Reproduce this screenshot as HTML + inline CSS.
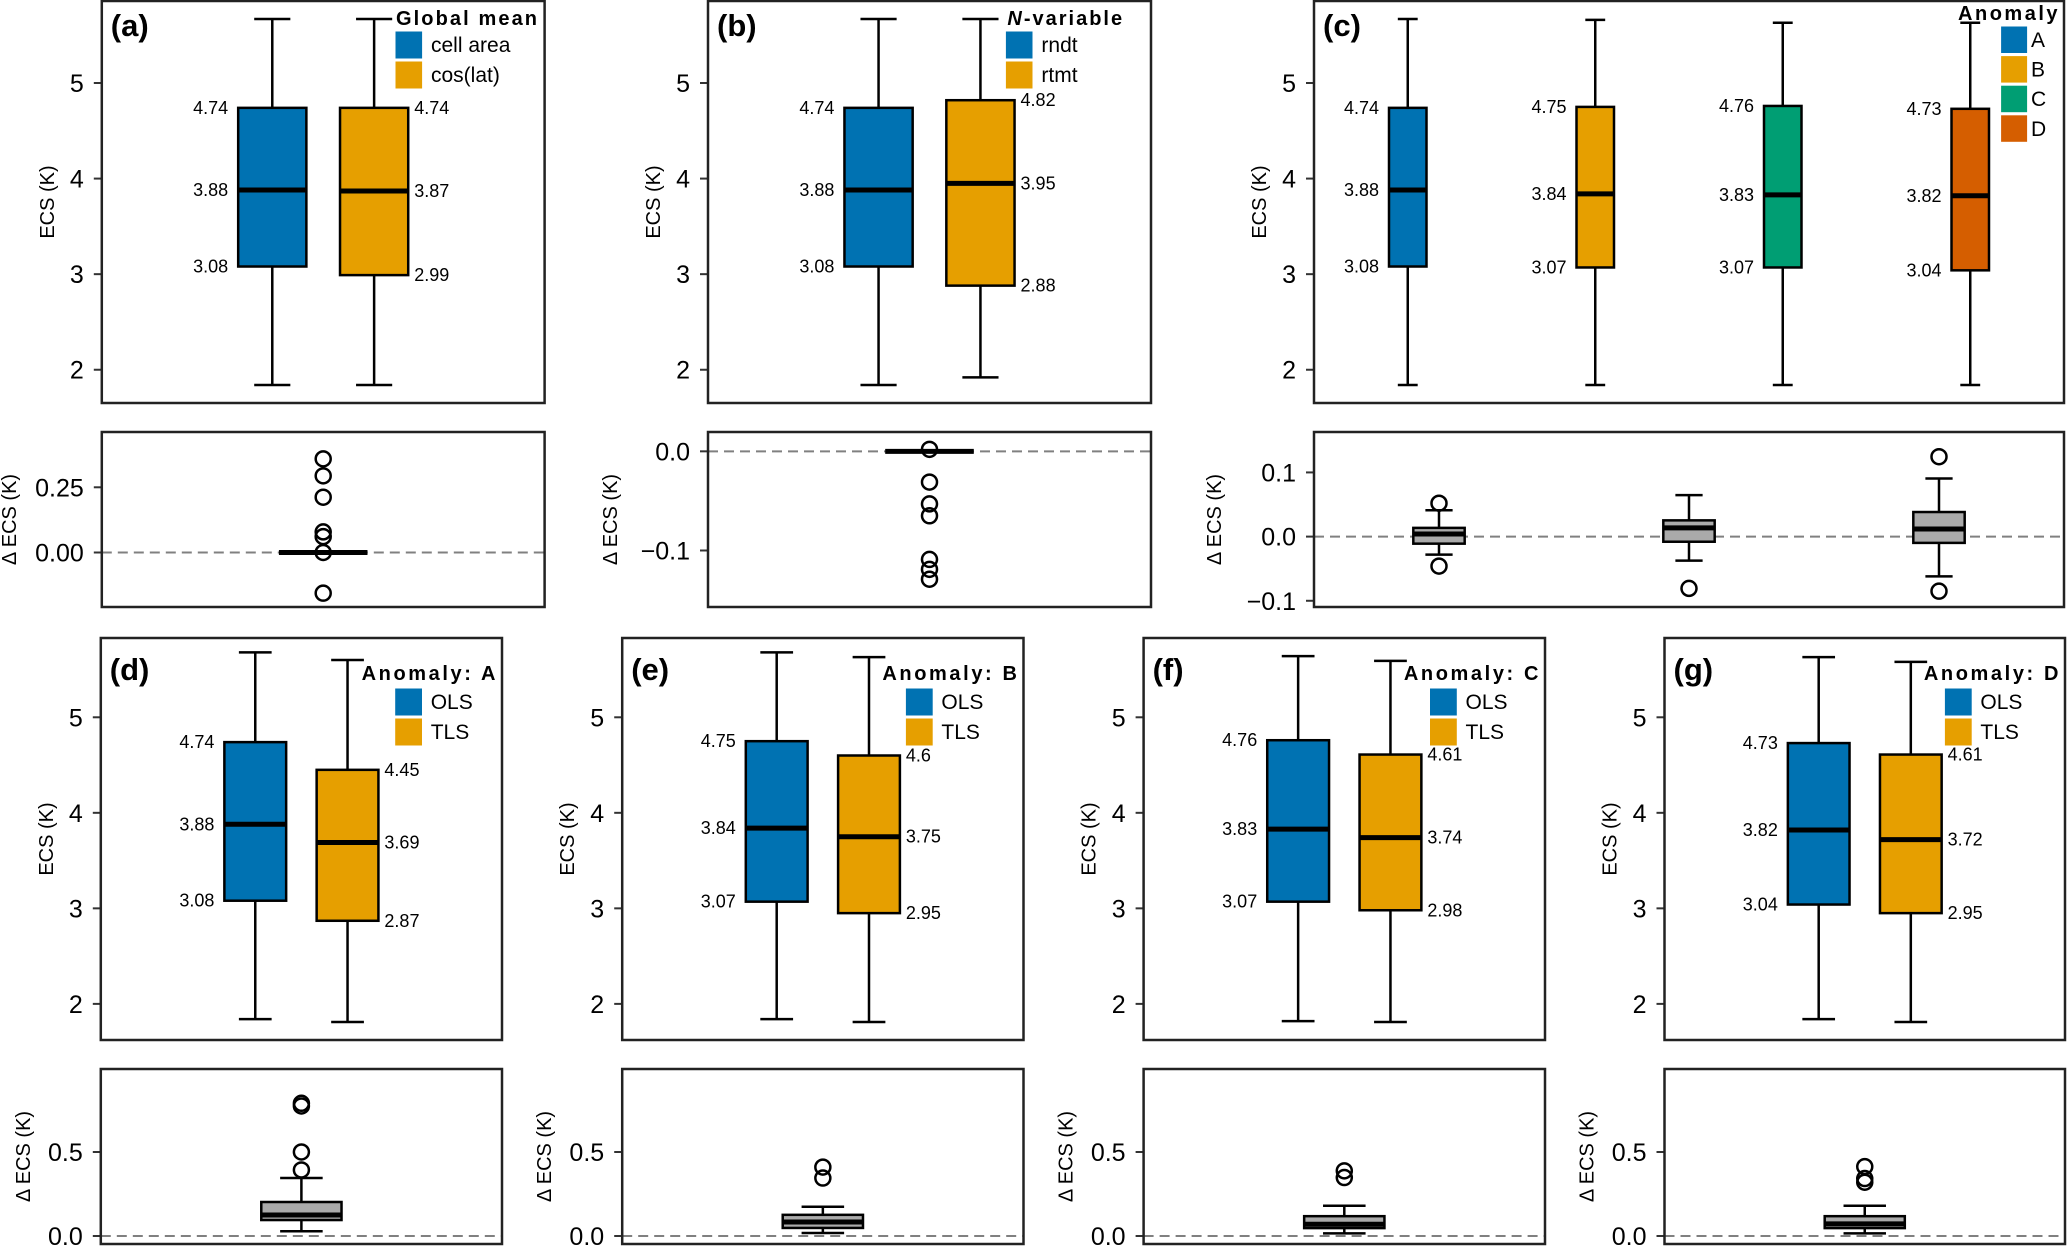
<!DOCTYPE html>
<html><head><meta charset="utf-8"><title>ECS boxplots</title>
<style>
html,body{margin:0;padding:0;background:#fff;}
svg{display:block;font-family:"Liberation Sans",Arial,sans-serif;}
</style></head>
<body>
<svg id="fig" xmlns="http://www.w3.org/2000/svg" width="2067" height="1247" viewBox="0 0 2067 1247"></svg>
<script>
// ---- data ----
const panelIds = ['a','b','c','d','e','f','g'];
const boxQ1  = [[3.08,2.99],[3.08,2.88],[3.08,3.07,3.07,3.04],[3.08,2.87],[3.07,2.95],[3.07,2.98],[3.04,2.95]];
const boxMed = [[3.88,3.87],[3.88,3.95],[3.88,3.84,3.83,3.82],[3.88,3.69],[3.84,3.75],[3.83,3.74],[3.82,3.72]];
const boxQ3  = [[4.74,4.74],[4.74,4.82],[4.74,4.75,4.76,4.73],[4.74,4.45],[4.75,4.6],[4.76,4.61],[4.73,4.61]];
const whiskLo= [[1.84,1.84],[1.84,1.92],[1.84,1.84,1.84,1.84],[1.84,1.81],[1.84,1.81],[1.82,1.81],[1.84,1.81]];
const whiskHi= [[5.67,5.67],[5.67,5.67],[5.67,5.66,5.63,5.63],[5.68,5.60],[5.68,5.63],[5.64,5.59],[5.63,5.58]];
const boxColors = [['#0072B2','#E69F00'],['#0072B2','#E69F00'],['#0072B2','#E69F00','#009E73','#D55E00'],
  ['#0072B2','#E69F00'],['#0072B2','#E69F00'],['#0072B2','#E69F00'],['#0072B2','#E69F00']];
const legendTitles = ['Global mean','-variable','Anomaly','Anomaly: A','Anomaly: B','Anomaly: C','Anomaly: D'];
const legendEntries = [['cell area','cos(lat)'],['rndt','rtmt'],['A','B','C','D'],['OLS','TLS'],['OLS','TLS'],['OLS','TLS'],['OLS','TLS']];
const topTicks = [2,3,4,5];

const dQ1 = [[0],[0],[-0.011,-0.008,-0.0098],[0.095],[0.048],[0.047],[0.047]];
const dMed= [[0],[0],[0.004,0.0136,0.0118],[0.125],[0.083],[0.07],[0.072]];
const dQ3 = [[0],[0],[0.0136,0.0253,0.0383],[0.2024],[0.126],[0.118],[0.118]];
const dLo = [[0],[0],[-0.028,-0.0375,-0.062],[0.028],[0.018],[0.016],[0.016]];
const dHi = [[0],[0],[0.041,0.0647,0.0906],[0.345],[0.174],[0.18],[0.18]];
const dOut= [[[0.359,0.294,0.212,0.079,0.061,0,-0.156]],
             [[0.002,-0.031,-0.053,-0.065,-0.109,-0.119,-0.129]],
             [[0.052,-0.046],[-0.0807],[0.1245,-0.085]],
             [[0.393,0.5,0.774,0.79]],[[0.41,0.345]],[[0.388,0.348]],[[0.413,0.342,0.32]]];
const diffTicks = [[0,0.25],[-0.1,0],[-0.1,0,0.1],[0,0.5],[0,0.5],[0,0.5],[0,0.5]];
const diffTickLabels = [['0.00','0.25'],['\u22120.1','0.0'],['\u22120.1','0.0','0.1'],['0.0','0.5'],['0.0','0.5'],['0.0','0.5'],['0.0','0.5']];

// ---- layout (geometry, not data) ----
const frames = [[101.8,544.6],[708,1151],[1314,2064],[100.8,502],[622.2,1023.5],[1143.6,1545],[1664.5,2065]];
const rowOf = [0,0,0,1,1,1,1];
const topY = [[1,403],[638,1040]];
const botY = [[432,607],[1069,1244]];
const topDom = [[1.652,5.858],[1.622,5.830]];
const diffDom = [[-0.209,0.462],[-0.157,0.0195],[-0.1097,0.163],[-0.0476,0.994],[-0.0476,0.994],[-0.0476,0.994],[-0.0476,0.994]];

const NS='http://www.w3.org/2000/svg';
const svg=document.getElementById('fig');
function mk(tag,attrs,parent){const e=document.createElementNS(NS,tag);for(const k in attrs)e.setAttribute(k,attrs[k]);(parent||svg).appendChild(e);return e;}
function scaleY(dom,rng){return v=>rng[1]-(v-dom[0])/(dom[1]-dom[0])*(rng[1]-rng[0]);}
function fmt(v){return String(v);}

panelIds.forEach((pid,p)=>{
  const [x0,x1]=frames[p]; const fw=x1-x0; const r=rowOf[p];
  const [ty0,ty1]=topY[r]; const [by0,by1]=botY[r];
  const y=scaleY(topDom[r],[ty0,ty1]);
  const yd=scaleY(diffDom[p],[by0,by1]);
  const g=mk('g',{});
  
  
  // ---- top plot ----
  const n=boxQ1[p].length;
  const xs=[], bw=(n===2?0.154:0.05)*fw;
  for(let i=0;i<n;i++){xs.push(n===2? x0+fw*(0.5+(i===0?-0.115:0.115)) : x0+fw*(i+0.5)/n);}
  for(let i=0;i<n;i++){
    const cx=xs[i], cw=bw*0.53;
    const bg=mk('g',{},g);
    
    
    mk('line',{x1:cx,x2:cx,y1:y(whiskHi[p][i]),y2:y(boxQ3[p][i]),stroke:'#000','stroke-width':2.5},bg);
    mk('line',{x1:cx,x2:cx,y1:y(boxQ1[p][i]),y2:y(whiskLo[p][i]),stroke:'#000','stroke-width':2.5},bg);
    mk('line',{x1:cx-cw/2,x2:cx+cw/2,y1:y(whiskHi[p][i]),y2:y(whiskHi[p][i]),stroke:'#000','stroke-width':2.5},bg);
    mk('line',{x1:cx-cw/2,x2:cx+cw/2,y1:y(whiskLo[p][i]),y2:y(whiskLo[p][i]),stroke:'#000','stroke-width':2.5},bg);
    mk('rect',{x:cx-bw/2,y:y(boxQ3[p][i]),width:bw,height:y(boxQ1[p][i])-y(boxQ3[p][i]),fill:boxColors[p][i],stroke:'#000','stroke-width':2.5},bg);
    mk('line',{x1:cx-bw/2,x2:cx+bw/2,y1:y(boxMed[p][i]),y2:y(boxMed[p][i]),stroke:'#000','stroke-width':5},bg);
    const left=(n!==2||i===0);
    [boxQ3[p][i],boxMed[p][i],boxQ1[p][i]].forEach((v,k)=>{
      const t=mk('text',{x:left?cx-bw/2-10:cx+bw/2+6,y:y(v)+6,'font-size':18,'text-anchor':left?'end':'start',fill:'#000'},bg);
      t.textContent=fmt(v);
      
      
    });
  }
  // top axes
  topTicks.forEach(v=>{
    mk('line',{x1:x0-8,x2:x0,y1:y(v),y2:y(v),stroke:'#333','stroke-width':2},g);
    const t=mk('text',{x:x0-18,y:y(v)+9,'font-size':25,'text-anchor':'end',fill:'#000'},g);
    t.textContent=String(v);
    
    
  });
  const yt=mk('text',{x:0,y:0,'font-size':20,'text-anchor':'middle',transform:`translate(${x0-48},${(ty0+ty1)/2}) rotate(-90)`},g);
  yt.textContent='ECS (K)';
  
  
  mk('rect',{x:x0,y:ty0,width:fw,height:ty1-ty0,fill:'none',stroke:'#222','stroke-width':2.5},g);
  const pl=mk('text',{x:x0+9,y:ty0+(r===0?35:42),'font-size':31,'font-weight':'bold'},g);
  pl.textContent='('+pid+')';
  
  
  // legend
  const lg=mk('g',{},g);
  
  
  if(p===2){
    const tt=mk('text',{x:x1-4,y:ty0+19,'font-size':20,'font-weight':'bold','text-anchor':'end','letter-spacing':2.5},lg);
    tt.textContent=legendTitles[p];
    legendEntries[p].forEach((e,i)=>{
      const sy=ty0+25+i*29.6;
      mk('rect',{x:2000.6,y:sy,width:27,height:27.5,fill:boxColors[p][i],stroke:'#fff','stroke-width':1},lg);
      const t=mk('text',{x:2031,y:sy+21,'font-size':21},lg);t.textContent=e;
      
      
    });
  } else {
    const off = r===0 ? {ty:25,s0:31,tx:(p===0?396:1007.4),sx:(p===0?395:1005.4)} :
      {ty:680,s0:688,tx:x1-4,sx:[0,0,0,394.7,905.4,1429.5,1944.4][p]};
    let tt;
    if(p===1){
      tt=mk('text',{x:off.tx,y:off.ty,'font-size':20,'font-weight':'bold','letter-spacing':2},lg);
      const ts=mk('tspan',{'font-style':'italic'},tt);ts.textContent='N';
      const ts2=mk('tspan',{},tt);ts2.textContent=legendTitles[p];
    } else if(p===0){
      tt=mk('text',{x:off.tx,y:off.ty,'font-size':20,'font-weight':'bold',textLength:141,lengthAdjust:'spacing'},lg);
      tt.textContent=legendTitles[p];
    } else {
      tt=mk('text',{x:x1-4,y:off.ty,'font-size':20,'font-weight':'bold','text-anchor':'end','letter-spacing':2.6},lg);
      tt.textContent=legendTitles[p];
    }
    legendEntries[p].forEach((e,i)=>{
      const sy=off.s0+i*30;
      mk('rect',{x:off.sx,y:sy,width:(r===0?27.6:27.8),height:28,fill:boxColors[p][i],stroke:'#fff','stroke-width':1},lg);
      const t=mk('text',{x:off.sx+36,y:sy+21,'font-size':21},lg);t.textContent=e;
      
      
    });
  }
  // ---- diff plot ----
  mk('line',{x1:x0,x2:x1,y1:yd(0),y2:yd(0),stroke:'#808080','stroke-width':2,'stroke-dasharray':'10 6'},g);
  const m=dQ1[p].length;
  const dbw=(m===1?0.2:0.0685)*fw;
  for(let i=0;i<m;i++){
    const cx=x0+fw*(i+0.5)/m, cw=dbw*0.53;
    const bg=mk('g',{},g);
    
    
    if(dHi[p][i]>dQ3[p][i]){
      mk('line',{x1:cx,x2:cx,y1:yd(dHi[p][i]),y2:yd(dQ3[p][i]),stroke:'#000','stroke-width':2.5},bg);
      mk('line',{x1:cx-cw/2,x2:cx+cw/2,y1:yd(dHi[p][i]),y2:yd(dHi[p][i]),stroke:'#000','stroke-width':2.5},bg);
    }
    if(dLo[p][i]<dQ1[p][i]){
      mk('line',{x1:cx,x2:cx,y1:yd(dQ1[p][i]),y2:yd(dLo[p][i]),stroke:'#000','stroke-width':2.5},bg);
      mk('line',{x1:cx-cw/2,x2:cx+cw/2,y1:yd(dLo[p][i]),y2:yd(dLo[p][i]),stroke:'#000','stroke-width':2.5},bg);
    }
    if(dQ3[p][i]>dQ1[p][i]){
      mk('rect',{x:cx-dbw/2,y:yd(dQ3[p][i]),width:dbw,height:yd(dQ1[p][i])-yd(dQ3[p][i]),fill:'#aaaaaa',stroke:'#000','stroke-width':2.5},bg);
    }
    mk('line',{x1:cx-dbw/2,x2:cx+dbw/2,y1:yd(dMed[p][i]),y2:yd(dMed[p][i]),stroke:'#000','stroke-width':5},bg);
    dOut[p][i].forEach(v=>{
      const c=mk('circle',{cx:cx,cy:yd(v),r:7.5,fill:'none',stroke:'#000','stroke-width':2.5},bg);
      
      
    });
  }
  diffTicks[p].forEach((v,k)=>{
    mk('line',{x1:x0-8,x2:x0,y1:yd(v),y2:yd(v),stroke:'#333','stroke-width':2},g);
    const t=mk('text',{x:x0-18,y:yd(v)+9,'font-size':25,'text-anchor':'end'},g);
    t.textContent=diffTickLabels[p][k];
    
    
  });
  const off2=[93,98,100,78,78,78,78][p];
  const dt=mk('text',{x:0,y:0,'font-size':20,'text-anchor':'middle',transform:`translate(${x0-off2+7},${(by0+by1)/2}) rotate(-90)`},g);
  dt.textContent='\u0394 ECS (K)';
  
  
  mk('rect',{x:x0,y:by0,width:fw,height:by1-by0,fill:'none',stroke:'#222','stroke-width':2.5},g);
});
</script>
</body></html>
